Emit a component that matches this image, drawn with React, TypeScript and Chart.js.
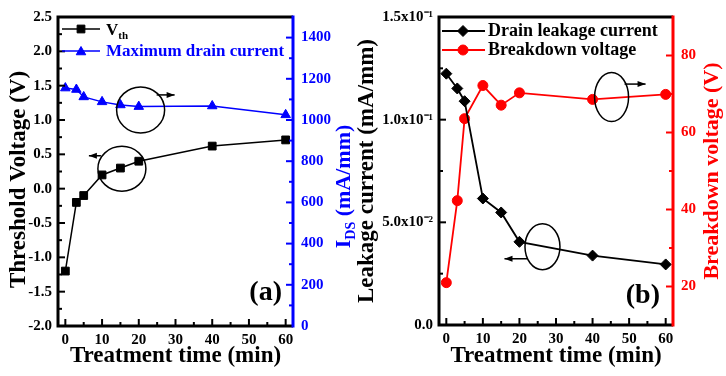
import React, { useEffect, useRef } from 'react';
import { Chart, registerables } from 'chart.js';

Chart.register(...registerables);

const SERIF = "'Liberation Serif', 'Times New Roman', Times, serif";
const BLUE = '#0000ff';
const RED = '#ff0000';

// Panel (a)
const timeA = [0, 3, 5, 10, 15, 20, 40, 60];
const thresholdV = [-1.2, -0.2, -0.1, 0.2, 0.3, 0.4, 0.62, 0.71];
const maxDrainCurrent = [1155, 1148, 1112, 1088, 1073, 1065, 1068, 1025];

// Panel (b)
const timeB = [0, 3, 5, 10, 15, 20, 40, 60];
const leakageCurrent = [0.1224, 0.1152, 0.109, 0.0616, 0.0548, 0.0405, 0.0338, 0.0295];
const breakdownVoltage = [21, 42.3, 63.6, 72.2, 67.1, 70.3, 68.6, 69.9];

// Ticks
const timeTicks = [0, 10, 20, 30, 40, 50, 60];
const thresholdTicks = [-2, -1.5, -1, -0.5, 0, 0.5, 1, 1.5, 2, 2.5];
const idsTicks = [0, 200, 400, 600, 800, 1000, 1200, 1400];
const leakageTicks = [0, 0.05, 0.1, 0.15];
const leakageTickLabels = ['0.0', '5.0x10⁻²', '1.0x10⁻¹', '1.5x10⁻¹'];
const breakdownTicks = [20, 40, 60, 80];

const tickFont = { family: SERIF, size: 15, weight: 'bold' as const };

type Part = { text: string; size: number; dy?: number };

function drawRich(ctx: CanvasRenderingContext2D, parts: Part[], x: number, y: number, rotation: number, color: string, align: 'left' | 'center' | 'right') {
  ctx.save();
  ctx.translate(x, y);
  ctx.rotate(rotation);
  ctx.fillStyle = color;
  ctx.textBaseline = 'alphabetic';
  ctx.textAlign = 'left';
  const widths = parts.map((p) => {
    ctx.font = `bold ${p.size}px ${SERIF}`;
    return ctx.measureText(p.text).width;
  });
  const total = widths.reduce((a, b) => a + b, 0);
  let cx = align === 'center' ? -total / 2 : align === 'right' ? -total : 0;
  parts.forEach((p, i) => {
    ctx.font = `bold ${p.size}px ${SERIF}`;
    ctx.fillText(p.text, cx, p.dy || 0);
    cx += widths[i];
  });
  ctx.restore();
}

function drawMarker(ctx: CanvasRenderingContext2D, style: string, x: number, y: number, r: number, color: string) {
  ctx.save();
  ctx.fillStyle = color;
  ctx.strokeStyle = color;
  ctx.lineWidth = 1;
  ctx.beginPath();
  if (style === 'rect') {
    const s = r * Math.SQRT1_2;
    ctx.rect(x - s, y - s, 2 * s, 2 * s);
  } else if (style === 'triangle') {
    ctx.moveTo(x, y - r);
    ctx.lineTo(x + 0.866 * r, y + 0.5 * r);
    ctx.lineTo(x - 0.866 * r, y + 0.5 * r);
    ctx.closePath();
  } else if (style === 'rectRot') {
    ctx.moveTo(x, y - r);
    ctx.lineTo(x + r, y);
    ctx.lineTo(x, y + r);
    ctx.lineTo(x - r, y);
    ctx.closePath();
  } else {
    ctx.arc(x, y, r, 0, Math.PI * 2);
  }
  ctx.fill();
  ctx.stroke();
  ctx.restore();
}

function minorValues(min: number, max: number, majors: number[]) {
  const step = majors[1] - majors[0];
  const out: number[] = [];
  for (let i = -1; i <= majors.length; i++) {
    const v = majors[0] + (i + 0.5) * step;
    if (v >= min - 1e-9 && v <= max + 1e-9) out.push(v);
  }
  return out;
}

function drawFrame(chart: any, rightColor: string) {
  const { ctx, chartArea } = chart;
  const { left, right, top, bottom } = chartArea;
  const axes = [
    { id: 'x', side: 'bottom', color: '#000' },
    { id: 'y', side: 'left', color: '#000' },
    { id: 'y1', side: 'right', color: rightColor },
  ];
  ctx.save();
  ctx.lineWidth = 2;
  for (const a of axes) {
    const s = chart.scales[a.id];
    const majors = s.ticks.map((t: any) => t.value);
    const minors = minorValues(s.min, s.max, majors);
    ctx.strokeStyle = a.color;
    const mark = (v: number, len: number) => {
      const p = s.getPixelForValue(v);
      ctx.beginPath();
      if (a.side === 'bottom') {
        ctx.moveTo(p, bottom);
        ctx.lineTo(p, bottom - len);
      } else if (a.side === 'left') {
        ctx.moveTo(left, p);
        ctx.lineTo(left + len, p);
      } else {
        ctx.moveTo(right, p);
        ctx.lineTo(right - len, p);
      }
      ctx.stroke();
    };
    majors.forEach((v: number) => mark(v, 7));
    minors.forEach((v: number) => mark(v, 4));
  }
  ctx.lineWidth = 3;
  ctx.strokeStyle = '#000';
  ctx.beginPath();
  ctx.moveTo(left, top - 1.5);
  ctx.lineTo(left, bottom + 1.5);
  ctx.moveTo(left - 1.5, bottom);
  ctx.lineTo(right, bottom);
  ctx.moveTo(left - 1.5, top);
  ctx.lineTo(right, top);
  ctx.stroke();
  ctx.strokeStyle = rightColor;
  ctx.beginPath();
  ctx.moveTo(right, top - 1.5);
  ctx.lineTo(right, bottom + 1.5);
  ctx.stroke();
  ctx.restore();
}

function drawNote(chart: any, xv: number, yv: number, axis: string, rx: number, ry: number, a0: [number, number], a1: [number, number]) {
  const { ctx } = chart;
  const cx = chart.scales.x.getPixelForValue(xv);
  const cy = chart.scales[axis].getPixelForValue(yv);
  ctx.save();
  ctx.strokeStyle = '#000';
  ctx.fillStyle = '#000';
  ctx.lineWidth = 1.5;
  ctx.beginPath();
  ctx.ellipse(cx, cy, rx, ry, 0, 0, Math.PI * 2);
  ctx.stroke();
  ctx.beginPath();
  ctx.moveTo(cx + a0[0], cy + a0[1]);
  ctx.lineTo(cx + a1[0], cy + a1[1]);
  ctx.stroke();
  const dir = Math.sign(a1[0] - a0[0]);
  ctx.beginPath();
  ctx.moveTo(cx + a1[0], cy + a1[1]);
  ctx.lineTo(cx + a1[0] - dir * 8, cy + a1[1] - 3);
  ctx.lineTo(cx + a1[0] - dir * 8, cy + a1[1] + 3);
  ctx.closePath();
  ctx.fill();
  ctx.restore();
}

function baseScales(leftMin: number, leftMax: number, leftTicks: number[], rightMin: number, rightMax: number, rightTicks: number[], rightColor: string, leftW: number, rightW: number, xH: number, leftLabel: (v: any, i: number) => string) {
  return {
    x: {
      type: 'linear',
      position: 'bottom',
      min: -2,
      max: 62,
      afterBuildTicks: (s: any) => { s.ticks = timeTicks.map((v) => ({ value: v })); },
      afterFit: (s: any) => { s.height = xH; },
      grid: { display: false, drawTicks: false },
      border: { display: false },
      ticks: { color: '#000', font: tickFont, padding: 5, autoSkip: false, maxRotation: 0, callback: (v: any) => String(v) },
    },
    y: {
      type: 'linear',
      position: 'left',
      min: leftMin,
      max: leftMax,
      afterBuildTicks: (s: any) => { s.ticks = leftTicks.map((v) => ({ value: v })); },
      afterFit: (s: any) => { s.width = leftW; },
      grid: { display: false, drawTicks: false },
      border: { display: false },
      ticks: { color: '#000', font: tickFont, padding: 6, autoSkip: false, callback: leftLabel },
    },
    y1: {
      type: 'linear',
      position: 'right',
      min: rightMin,
      max: rightMax,
      afterBuildTicks: (s: any) => { s.ticks = rightTicks.map((v) => ({ value: v })); },
      afterFit: (s: any) => { s.width = rightW; },
      grid: { display: false, drawTicks: false },
      border: { display: false },
      ticks: { color: rightColor, font: tickFont, padding: 8, autoSkip: false, callback: (v: any) => String(v) },
    },
  };
}

function configA(): any {
  const decor = {
    id: 'decorA',
    afterDatasetsDraw(chart: any) {
      const { ctx, chartArea } = chart;
      const { left, right, top, bottom } = chartArea;
      drawFrame(chart, BLUE);
      // legend
      ctx.save();
      ctx.lineWidth = 1.5;
      ctx.strokeStyle = '#000';
      ctx.beginPath();
      ctx.moveTo(left + 4, top + 12);
      ctx.lineTo(left + 42, top + 12);
      ctx.stroke();
      ctx.strokeStyle = BLUE;
      ctx.beginPath();
      ctx.moveTo(left + 4, top + 34);
      ctx.lineTo(left + 42, top + 34);
      ctx.stroke();
      ctx.restore();
      drawMarker(ctx, 'rect', left + 23, top + 12, 5.5, '#000');
      drawMarker(ctx, 'triangle', left + 23, top + 35, 5.5, BLUE);
      drawRich(ctx, [{ text: 'V', size: 17 }, { text: 'th', size: 11, dy: 4 }], left + 48, top + 18, 0, '#000', 'left');
      drawRich(ctx, [{ text: 'Maximum drain current', size: 17 }], left + 48, top + 39, 0, BLUE, 'left');
      // panel label
      drawRich(ctx, [{ text: '(a)', size: 28 }], right - 11, bottom - 26, 0, '#000', 'right');
      // annotations
      drawNote(chart, 15.4, 0.29, 'y', 24, 22.5, [-21, -13], [-33, -13]);
      drawNote(chart, 20.5, 1049, 'y1', 24, 23, [16, -15], [34, -15]);
      // axis titles
      const midY = (top + bottom) / 2;
      drawRich(ctx, [{ text: 'Threshold Voltage (V)', size: 23 }], left - 33, midY + 8, -Math.PI / 2, '#000', 'center');
      drawRich(ctx, [{ text: 'Treatment time (min)', size: 23 }], (left + right) / 2, 362, 0, '#000', 'center');
      drawRich(ctx, [{ text: 'I', size: 22 }, { text: 'DS', size: 14, dy: 5 }, { text: ' (mA/mm)', size: 22 }], right + 57, midY + 15, -Math.PI / 2, BLUE, 'center');
    },
  };
  return {
    type: 'line',
    data: {
      datasets: [
        {
          label: 'Vth',
          data: timeA.map((t, i) => ({ x: t, y: thresholdV[i] })),
          yAxisID: 'y',
          borderColor: '#000',
          backgroundColor: '#000',
          borderWidth: 1.5,
          pointStyle: 'rect',
          pointRadius: 5.5,
          pointBorderWidth: 1,
          tension: 0,
        },
        {
          label: 'Maximum drain current',
          data: timeA.map((t, i) => ({ x: t, y: maxDrainCurrent[i] })),
          yAxisID: 'y1',
          borderColor: BLUE,
          backgroundColor: BLUE,
          borderWidth: 1.5,
          pointStyle: 'triangle',
          pointRadius: 5.5,
          pointBorderWidth: 1,
          tension: 0,
        },
      ],
    },
    options: {
      responsive: false,
      animation: false,
      events: [],
      layout: { padding: { top: 9, left: 0, right: 0, bottom: 0 } },
      plugins: { legend: { display: false }, tooltip: { enabled: false } },
      scales: baseScales(-2, 2.5, thresholdTicks, 0, 1500, idsTicks, BLUE, 58, 69, 50, (v: any) => Number(v).toFixed(1)),
    },
    plugins: [decor],
  };
}

function configB(): any {
  const decor = {
    id: 'decorB',
    afterDatasetsDraw(chart: any) {
      const { ctx, chartArea } = chart;
      const { left, right, top, bottom } = chartArea;
      drawFrame(chart, RED);
      ctx.save();
      ctx.lineWidth = 1.8;
      ctx.strokeStyle = '#000';
      ctx.beginPath();
      ctx.moveTo(left + 3, top + 14);
      ctx.lineTo(left + 46, top + 14);
      ctx.stroke();
      ctx.strokeStyle = RED;
      ctx.beginPath();
      ctx.moveTo(left + 3, top + 33);
      ctx.lineTo(left + 46, top + 33);
      ctx.stroke();
      ctx.restore();
      drawMarker(ctx, 'rectRot', left + 24, top + 14, 5.5, '#000');
      drawMarker(ctx, 'circle', left + 24, top + 33, 5, RED);
      drawRich(ctx, [{ text: 'Drain leakage current', size: 18 }], left + 49, top + 19, 0, '#000', 'left');
      drawRich(ctx, [{ text: 'Breakdown voltage', size: 18 }], left + 49, top + 38, 0, '#000', 'left');
      drawRich(ctx, [{ text: '(b)', size: 28 }], right - 13, bottom - 22, 0, '#000', 'right');
      drawNote(chart, 26.3, 0.0381, 'y', 17.5, 23, [-15, 12], [-38, 12]);
      drawNote(chart, 45.2, 69.2, 'y1', 17, 24.5, [13, -13], [34, -13]);
      const midY = (top + bottom) / 2;
      drawRich(ctx, [{ text: 'Leakage current (mA/mm)', size: 23 }], left - 66, midY, -Math.PI / 2, '#000', 'center');
      drawRich(ctx, [{ text: 'Treatment time (min)', size: 23 }], (left + right) / 2, 362, 0, '#000', 'center');
      drawRich(ctx, [{ text: 'Breakdown voltage (V)', size: 22 }], right + 45, midY, -Math.PI / 2, RED, 'center');
    },
  };
  return {
    type: 'line',
    data: {
      datasets: [
        {
          label: 'Drain leakage current',
          data: timeB.map((t, i) => ({ x: t, y: leakageCurrent[i] })),
          yAxisID: 'y',
          borderColor: '#000',
          backgroundColor: '#000',
          borderWidth: 1.8,
          pointStyle: 'rectRot',
          pointRadius: 5.5,
          pointBorderWidth: 1,
          tension: 0,
        },
        {
          label: 'Breakdown voltage',
          data: timeB.map((t, i) => ({ x: t, y: breakdownVoltage[i] })),
          yAxisID: 'y1',
          borderColor: RED,
          backgroundColor: RED,
          borderWidth: 1.8,
          pointStyle: 'circle',
          pointRadius: 5,
          pointBorderWidth: 1,
          tension: 0,
        },
      ],
    },
    options: {
      responsive: false,
      animation: false,
      events: [],
      layout: { padding: { top: 10, left: 0, right: 0, bottom: 0 } },
      plugins: { legend: { display: false }, tooltip: { enabled: false } },
      scales: baseScales(0, 0.15, leakageTicks, 10, 90, breakdownTicks, RED, 89, 53, 51, (_v: any, i: number) => leakageTickLabels[i]),
    },
    plugins: [decor],
  };
}

function Panel({ left, width, build }: { left: number; width: number; build: () => any }) {
  const ref = useRef<HTMLCanvasElement>(null);
  useEffect(() => {
    const chart = new Chart(ref.current as HTMLCanvasElement, build());
    return () => chart.destroy();
  }, []);
  return (
    <canvas
      ref={ref}
      width={width}
      height={376}
      style={{ position: 'absolute', left, top: 0, width, height: 376 }}
    />
  );
}

export default function App() {
  return (
    <div style={{ position: 'fixed', left: 0, top: 0, width: 726, height: 376, background: '#fff', overflow: 'hidden' }}>
      <Panel left={0} width={362} build={configA} />
      <Panel left={350} width={376} build={configB} />
    </div>
  );
}
